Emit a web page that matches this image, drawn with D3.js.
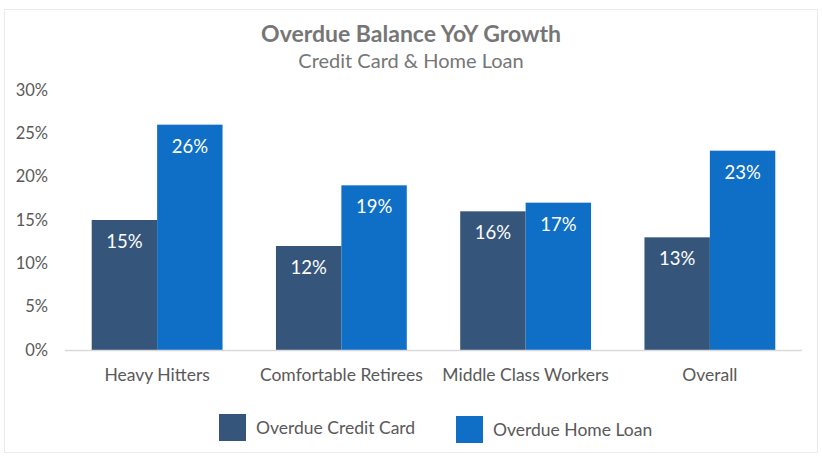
<!DOCTYPE html>
<html>
<head>
<meta charset="utf-8">
<script src="https://cdn.jsdelivr.net/npm/d3@7"></script>
<style>
  html, body { margin: 0; padding: 0; background: #fff; }
  svg text { font-family: Lato, "Open Sans", sans-serif; }
</style>
</head>
<body>
<script>
// --- data ---
const categories = ["Heavy Hitters", "Comfortable Retirees", "Middle Class Workers", "Overall"];
const seriesNames = ["Overdue Credit Card", "Overdue Home Loan"];
const creditCard = [15, 12, 16, 13];
const homeLoan = [26, 19, 17, 23];
const yTicks = [0, 5, 10, 15, 20, 25, 30];
const colors = ["#35557B", "#0F6FC6"];

const W = 822, H = 462;
const margin = {top: 90, right: 20, bottom: 112, left: 65};
const width = 802 - margin.left, height = 350 - margin.top;

const svg = d3.select("body").append("svg")
  .attr("width", W).attr("height", H);

// light frame round the chart
svg.append("rect")
  .attr("x", 4.5).attr("y", 9.5).attr("width", 813).attr("height", 443)
  .attr("fill", "#fff").attr("stroke", "#ebebeb");

// titles
svg.append("text").attr("x", 411).attr("y", 42)
  .attr("text-anchor", "middle").attr("font-size", 23).attr("font-weight", "bold")
  .attr("fill", "#767676").text("Overdue Balance YoY Growth");
svg.append("text").attr("x", 411).attr("y", 68)
  .attr("text-anchor", "middle").attr("font-size", 20)
  .attr("fill", "#767676").text("Credit Card & Home Loan");

const g = svg.append("g").attr("transform", `translate(${margin.left},${margin.top})`);

// scales
const x = d3.scaleBand().domain(categories).range([0, width]).paddingInner(0.29).paddingOuter(0.145);
const x1 = d3.scaleBand().domain(seriesNames).range([0, x.bandwidth()]);
const y = d3.scaleLinear().domain([0, 30]).range([height, 0]);

// y axis
g.append("g")
  .call(d3.axisLeft(y).tickValues(yTicks).tickSize(0).tickPadding(17).tickFormat(d => d + "%"))
  .call(a => a.select(".domain").remove())
  .selectAll("text").attr("font-size", 16.5).attr("fill", "#595959")
  .attr("font-family", "Lato, 'Open Sans', sans-serif");

// bars
const rows = categories.map((c, i) => ({cat: c, vals: [creditCard[i], homeLoan[i]]}));
const groups = g.selectAll(".grp").data(rows).enter().append("g")
  .attr("transform", d => `translate(${x(d.cat)},0)`);

groups.selectAll("rect").data(d => d.vals.map((v, j) => ({s: seriesNames[j], v, j})))
  .enter().append("rect")
  .attr("x", d => x1(d.s)).attr("y", d => y(d.v))
  .attr("width", x1.bandwidth()).attr("height", d => height - y(d.v))
  .attr("fill", d => colors[d.j]);

groups.selectAll(".lbl").data(d => d.vals.map((v, j) => ({s: seriesNames[j], v, j})))
  .enter().append("text")
  .attr("x", d => x1(d.s) + x1.bandwidth() / 2).attr("y", d => y(d.v) + 28)
  .attr("text-anchor", "middle").attr("font-size", 18.5).attr("fill", "#fff")
  .text(d => d.v + "%");

// baseline
g.append("line").attr("x1", 0).attr("x2", width).attr("y1", height + 0.5).attr("y2", height + 0.5)
  .attr("stroke", "#d9d9d9").attr("stroke-width", 1.5);

// x axis labels
g.append("g").attr("transform", `translate(0,${height})`)
  .call(d3.axisBottom(x).tickSize(0).tickPadding(19))
  .call(a => a.select(".domain").remove())
  .selectAll("text").attr("font-size", 17.5).attr("fill", "#595959")
  .attr("font-family", "Lato, 'Open Sans', sans-serif");

// legend
const legendX = [219, 456], legendDy = [0, 2];
seriesNames.forEach((s, i) => {
  const lg = svg.append("g").attr("transform", `translate(${legendX[i]},${414 + legendDy[i]})`);
  lg.append("rect").attr("width", 27).attr("height", 27).attr("fill", colors[i]);
  lg.append("text").attr("x", 37).attr("y", 20).attr("font-size", 17.5).attr("fill", "#595959").text(s);
});
</script>
</body>
</html>
